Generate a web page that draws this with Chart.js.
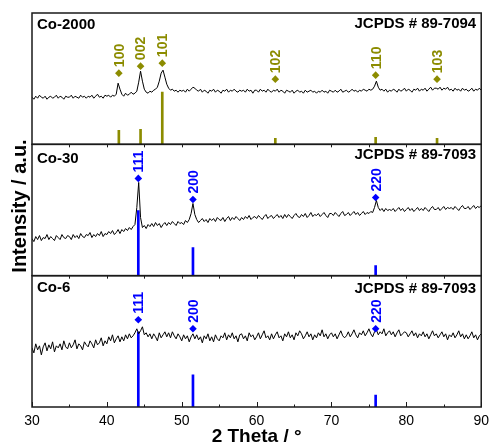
<!DOCTYPE html>
<html>
<head>
<meta charset="utf-8">
<script src="https://cdn.jsdelivr.net/npm/chart.js@4.4.1/dist/chart.umd.min.js"></script>
<style>
html,body{margin:0;padding:0;background:#fff;}
#wrap{width:495px;height:446px;position:relative;}
</style>
</head>
<body>
<div id="wrap"><canvas id="c" width="495" height="446"></canvas></div>
<script>
// ---- scan grid (2θ, degrees) ----
const X_START = 30;
const X_STEP = 0.25;

// ---- XRD traces (a.u.), one value per 0.25° from 30° to 90° ----
const co2000 = [
47,45,48,46,49,47,46,48,45,47, 48,46,47,49,46,48,47,45,48,47,
47,49,46,48,47,46,49,47,48,46, 48,47,49,46,48,50,47,48,46,49,
48,49,47,49,48,50,61,55, 50,48,51,49,50,52,50,51,
53,62,73,63,55,52,51,53, 52,54,55,57,63,71,74,67,
60,56,54,55,53,54,52,54, 53,54,52,55,53,55,57,56,
54,53,55,52,54,53,51,54, 53,55,52,54,53,51,54,53,
55,52,54,53,55,53,52,54, 53,54,52,55,53,54,51,54,
54,52,55,53,54,52,55,53, 52,54,53,55,52,54,53,51,
54,53,52,54,51,53,54,52, 53,51,54,52,53,54,52,53,
51,53,52,54,52,53,51,54, 53,52,54,52,53,55,52,53,
54,52,53,55,53,54,52,54, 53,55,54,53,55,54,55,58,
63,57,54,55,53,55,52,54, 53,55,54,52,55,53,54,56,
53,55,54,52,55,54,56,53, 55,54,56,53,55,57,54,56,
56,55,57,54,56,55,57,54, 55,53,56,54,55,53,56,54,
55,53,54,56,53,55,54,56,54
];
const co30 = [
37,34,39,36,40,35,38,37,41,36, 39,37,35,40,38,36,41,38,37,40,
39,36,41,38,40,37,42,39,38,41, 40,43,38,41,39,42,40,44,39,42,
41,44,42,45,41,43,46,42, 46,44,47,45,48,46,49,51,
68,93,58,48,50,47,51,49, 52,49,53,50,52,48,51,53,
50,53,51,54,52,50,54,52, 53,51,55,53,56,62,72,61,
56,53,55,57,54,56,53,57, 55,57,54,58,56,55,58,54,
57,59,55,58,56,59,57,55, 58,56,59,57,60,56,58,59,
57,60,58,56,59,61,57,59, 60,57,59,61,58,60,57,61,
58,61,59,57,60,62,59,58, 61,59,62,58,60,63,59,61,
60,62,59,61,63,60,58,62, 62,60,63,61,59,62,64,60,
61,63,60,62,64,61,63,60, 62,64,61,63,62,64,63,68,
75,68,65,67,64,67,65,66, 65,67,64,66,68,65,67,64,
66,68,65,67,64,66,68,65, 67,65,68,66,64,67,69,66,
66,68,65,67,69,66,68,67, 68,66,69,67,65,68,70,67,
67,69,66,68,70,67,69,68,70
];
const co6 = [
59,54,63,57,61,52,60,64,56,62, 58,65,55,61,59,63,57,66,60,58,
64,59,62,67,58,63,61,57,65,62, 60,66,63,59,67,62,64,69,61,66,
63,70,66,72,64,68,71,65, 70,66,72,68,73,69,71,74,
78,73,76,80,72,74,70,73, 68,73,70,66,74,69,72,75,
70,74,69,75,71,68,73,70, 66,72,68,71,65,70,73,68,
72,67,70,64,71,68,73,66, 70,65,72,68,66,71,69,74,
67,72,69,74,68,71,65,72, 73,68,71,66,74,70,72,67,
70,74,68,72,76,69,71,67, 73,68,72,75,69,71,66,73,
70,75,69,72,67,74,71,76, 73,68,71,75,70,73,67,72,
69,74,71,77,70,73,68,72, 74,70,73,68,72,76,71,69,
71,75,70,73,77,72,69,74, 72,76,71,74,78,73,70,75,
77,72,75,73,78,71,74,76, 72,75,70,74,77,71,73,75,
74,70,73,76,71,74,69,73, 71,75,70,73,68,72,76,71,
73,69,72,75,70,73,67,72, 70,74,69,72,76,70,73,68,
72,68,71,75,69,72,67,71,73
];

// ---- reference cards ----
const hcpHKL   = ['100','002','101','102','110','103'];
const hcpPos   = [41.6, 44.5, 47.4, 62.5, 75.9, 84.1];
const hcpStick = [14, 15, 52, 6, 7, 6];
const hcpMark  = [71, 78, 81, 65, 69, 65];

const fccHKL    = ['111','200','220'];
const fccPos    = [44.2, 51.5, 75.9];
const co30Stick = [65, 28, 10];
const co30Mark  = [97, 76, 78];
const co6Stick  = [75, 32, 12];
const co6Mark   = [87, 78, 78];

const panelNames = ['Co-2000','Co-30','Co-6'];
const cardNames  = ['JCPDS # 89-7094','JCPDS # 89-7093','JCPDS # 89-7093'];
const xTickValues = [30,40,50,60,70,80,90];

// ---- styles ----
const OLIVE = '#8c8c00';
const BLUE = '#0000ff';
const FONT = 'Arial, "Liberation Sans", sans-serif';
const nameDy = [12, 15, 12.5];
const cardDy = [10.5, 11, 13];

function trace(vals){ return vals.map((v,i)=>({x: X_START + i*X_STEP, y: v})); }
function pts(xs, ys){ return xs.map((x,i)=>({x: x, y: ys[i]})); }

const panels = [
  {axis:'yTop', trace: co2000, pos: hcpPos, stick: hcpStick, mark: hcpMark, hkl: hcpHKL, color: OLIVE},
  {axis:'yMid', trace: co30, pos: fccPos, stick: co30Stick, mark: co30Mark, hkl: fccHKL, color: BLUE},
  {axis:'yBot', trace: co6, pos: fccPos, stick: co6Stick, mark: co6Mark, hkl: fccHKL, color: BLUE}
];

const datasets = [];
panels.forEach((p, k) => {
  datasets.push({type:'bar', data: pts(p.pos, p.stick), yAxisID: p.axis, backgroundColor: p.color,
    barThickness: 2, grouped: false, order: 3});
  datasets.push({type:'line', data: trace(p.trace), yAxisID: p.axis, borderColor:'#000', borderWidth: 1,
    pointRadius: 0, tension: 0, fill: false, order: 2});
  datasets.push({type:'scatter', data: pts(p.pos, p.mark), yAxisID: p.axis, pointStyle:'rectRot',
    pointRadius: 3.8, backgroundColor: p.color, borderWidth: 0, order: 1, hkl: p.hkl, hklColor: p.color});
});

const yAxis = () => ({
  type:'linear', min: 0, max: 131, stack:'panels', stackWeight: 1, position:'left', offset:false,
  display: true, ticks:{display:false}, grid:{display:false, drawTicks:false}, border:{display:false},
  afterFit: s => { s.width = 0; }
});

const decor = {
  id: 'decor',
  afterDraw(chart){
    const ctx = chart.ctx;
    const x = chart.scales.x;
    const ca = chart.chartArea;
    const axes = ['yTop','yMid','yBot'].map(id => chart.scales[id]);
    ctx.save();
    // hkl labels
    chart.data.datasets.forEach((ds, i) => {
      if (!ds.hkl) return;
      const meta = chart.getDatasetMeta(i);
      meta.data.forEach((el, j) => {
        ctx.save();
        ctx.translate(el.x, el.y - 6);
        ctx.rotate(-Math.PI/2);
        ctx.fillStyle = ds.hklColor;
        ctx.font = 'bold 14px ' + FONT;
        ctx.textAlign = 'left';
        ctx.textBaseline = 'middle';
        ctx.fillText(ds.hkl[j], 0, 1);
        ctx.restore();
      });
    });
    // frames
    ctx.strokeStyle = '#1a1a1a';
    ctx.lineWidth = 1.5;
    axes.forEach(a => { ctx.strokeRect(ca.left, a.top, ca.right - ca.left, a.bottom - a.top); });
    // ticks
    ctx.lineWidth = 1;
    ctx.beginPath();
    for (let v = 30; v <= 90; v += 5) {
      const px = Math.round(x.getPixelForValue(v)) + 0.5;
      const len = (v % 10 === 0) ? 5 : 2.5;
      ctx.moveTo(px, ca.bottom); ctx.lineTo(px, ca.bottom - len);
      if (v > 30 && v < 90) {
        [axes[1], axes[2]].forEach(a => { ctx.moveTo(px, a.top); ctx.lineTo(px, a.top + 3); });
      }
    }
    ctx.stroke();
    // panel texts
    ctx.fillStyle = '#000';
    ctx.font = 'bold 15px ' + FONT;
    ctx.textBaseline = 'middle';
    axes.forEach((a, k) => {
      ctx.textAlign = 'left';
      ctx.fillText(panelNames[k], ca.left + 5, a.top + nameDy[k]);
      ctx.textAlign = 'right';
      ctx.fillText(cardNames[k], ca.right - 5, a.top + cardDy[k]);
    });
    // y title
    ctx.save();
    ctx.translate(20, (axes[1].top + axes[1].bottom) / 2 - 4);
    ctx.rotate(-Math.PI/2);
    ctx.textAlign = 'center';
    ctx.textBaseline = 'middle';
    ctx.font = 'bold 20px ' + FONT;
    ctx.fillText('Intensity / a.u.', 0, 0);
    ctx.restore();
    ctx.restore();
  }
};

new Chart(document.getElementById('c'), {
  type: 'scatter',
  data: { datasets },
  options: {
    responsive: false,
    devicePixelRatio: 1,
    animation: false,
    events: [],
    layout: { padding: { left: 32, top: 13, right: 8, bottom: 0 } },
    plugins: { legend: { display: false }, tooltip: { enabled: false } },
    scales: {
      x: {
        type:'linear', position:'bottom', min: 30, max: 90, offset: false,
        afterBuildTicks: s => { s.ticks = xTickValues.map(v => ({value: v})); },
        ticks: { color:'#000', font: { family: FONT, size: 14 }, padding: 6, maxRotation: 0 },
        grid: { display: false, drawTicks: false },
        border: { display: false },
        title: { display: true, text: '2 Theta / °', color:'#000', font: { family: FONT, size: 19, weight: 'bold', lineHeight: 1 }, padding: { top: 0, bottom: 0 } },
        afterFit: s => { s.height = 39; }
      },
      yBot: yAxis(),
      yMid: yAxis(),
      yTop: yAxis()
    }
  },
  plugins: [decor]
});
</script>
</body>
</html>
